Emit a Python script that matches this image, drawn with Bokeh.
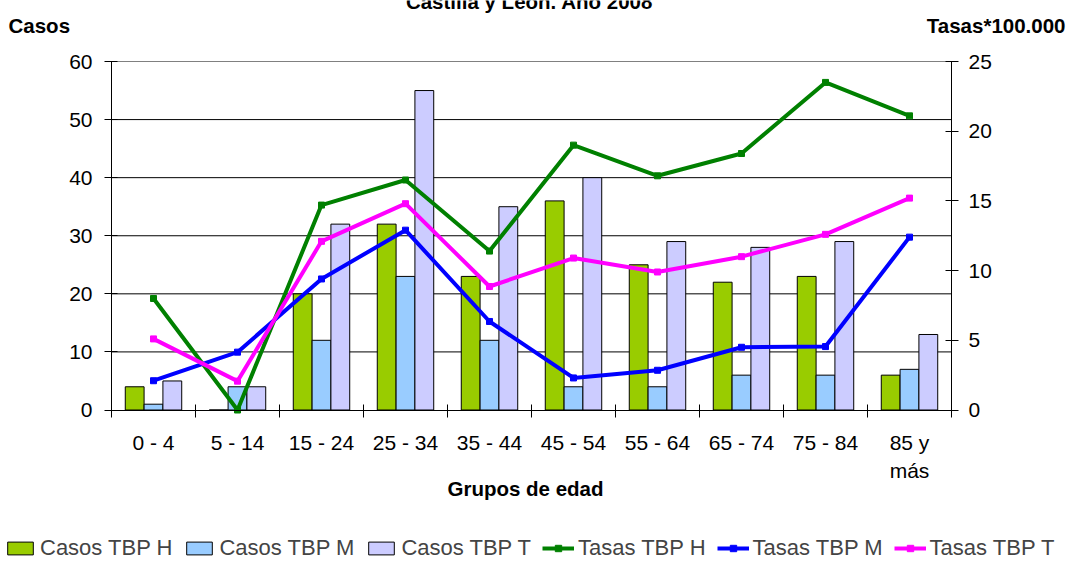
import numpy as np
from bokeh.plotting import figure
from bokeh.models import (Range1d, LinearAxis, FixedTicker, Label, Legend, LegendItem)
from bokeh.embed import file_html
from bokeh.resources import INLINE

# ---------------- data ----------------
grupos = ["0 - 4", "5 - 14", "15 - 24", "25 - 34", "35 - 44", "45 - 54",
          "55 - 64", "65 - 74", "75 - 84", "85 y\nmás"]
casos_h = [4, 0, 20, 32, 23, 36, 25, 22, 23, 6]
casos_m = [1, 4, 12, 23, 12, 4, 4, 6, 6, 7]
casos_t = [5, 4, 32, 55, 35, 40, 29, 28, 29, 13]
tasas_h = [8.0, 0.0, 14.7, 16.5, 11.4, 19.0, 16.8, 18.4, 23.5, 21.1]
tasas_m = [2.1, 4.15, 9.4, 12.9, 6.35, 2.3, 2.85, 4.5, 4.55, 12.4]
tasas_t = [5.1, 2.07, 12.1, 14.8, 8.86, 10.9, 9.9, 11.0, 12.6, 15.2]
casos_ticks = [0, 10, 20, 30, 40, 50, 60]
tasas_ticks = [0, 5, 10, 15, 20, 25]
series_names = ["Casos TBP H", "Casos TBP M", "Casos TBP T",
                "Tasas TBP H", "Tasas TBP M", "Tasas TBP T"]
titulo = "Castilla y León. Año 2008"
y_left_title = "Casos"
y_right_title = "Tasas*100.000"
x_title = "Grupos de edad"

FONT = "Liberation Sans"
FS = "21px"
FS_B = "20.5px"
FS_LEG = "22px"

# ---------------- geometry (pixels) ----------------
W, H = 1068, 561
PX_L, PX_T = 111.0, 61.0
PX_R = W - 951.0
PX_B = H - 409.5
n = len(grupos)
cmax, tmax = casos_ticks[-1], tasas_ticks[-1]
fw, fh = W - PX_L - PX_R, H - PX_T - PX_B
sx = fw / n
sy_c = fh / cmax
sy_t = fh / tmax

x_range = Range1d(-PX_L / sx, n + PX_R / sx)
y_range = Range1d(-PX_B / sy_c, cmax + PX_T / sy_c)

p = figure(width=W, height=H, x_range=x_range, y_range=y_range,
           output_backend="svg", toolbar_location=None, min_border=0)
p.extra_y_ranges = {"tasas": Range1d(-PX_B / sy_t, tmax + PX_T / sy_t)}
p.outline_line_color = None
p.xgrid.grid_line_color = None
p.ygrid.grid_line_color = None

xc = [i + 0.5 for i in range(n)]
xa = np.array(xc)
bw = 0.224

# horizontal grid lines (plot area only) + grey top border
p.segment(x0=[0] * (len(casos_ticks) - 2), x1=[n] * (len(casos_ticks) - 2),
          y0=casos_ticks[1:-1], y1=casos_ticks[1:-1], line_color="black", line_width=1)
p.segment(x0=[0], x1=[n], y0=[cmax], y1=[cmax], line_color="#808080", line_width=1)

# axes
yax = p.yaxis[0]
yax.fixed_location = 0
yax.bounds = (0, cmax)
yax.ticker = FixedTicker(ticks=casos_ticks)

xax = p.xaxis[0]
xax.fixed_location = 0
xax.bounds = (0, n)
xax.ticker = FixedTicker(ticks=xc, minor_ticks=list(range(n + 1)))
xax.major_label_overrides = {x: g for x, g in zip(xc, grupos)}
xax.major_tick_line_color = None
xax.major_tick_in = 0
xax.major_tick_out = 7
xax.minor_tick_line_color = "black"
xax.minor_tick_in = 6
xax.minor_tick_out = 7
xax.major_label_standoff = 14

rax = LinearAxis(y_range_name="tasas", ticker=FixedTicker(ticks=tasas_ticks),
                 fixed_location=n, bounds=(0, tmax))
p.add_layout(rax, "right")

for ax in [xax, yax, rax]:
    ax.axis_line_color = "black"
    ax.major_label_text_font = FONT
    ax.major_label_text_font_size = FS
    ax.major_label_text_color = "black"
for ax in [yax, rax]:
    ax.major_tick_line_color = "black"
    ax.minor_tick_line_color = None
    ax.major_tick_in = 6
    ax.major_tick_out = 7
yax.major_label_standoff = 12
rax.major_label_standoff = 10

# bars
rb_h = p.vbar(x=xa - bw, top=casos_h, width=bw, fill_color="#99CC00", line_color="black", line_width=1)
rb_m = p.vbar(x=xa, top=casos_m, width=bw, fill_color="#99CCFF", line_color="black", line_width=1)
rb_t = p.vbar(x=xa + bw, top=casos_t, width=bw, fill_color="#CCCCFF", line_color="black", line_width=1)

# lines
line_specs = [(tasas_h, "#008000"), (tasas_m, "#0000FF"), (tasas_t, "#FF00FF")]
line_rs = []
for vals, col in line_specs:
    rl = p.line(xa, vals, y_range_name="tasas", line_color=col, line_width=4)
    rs = p.scatter(xa, vals, y_range_name="tasas", marker="square", size=6,
                   fill_color=col, line_color=col)
    line_rs.append([rl, rs])

# texts
def px_x(px):
    return (px - PX_L) / sx

def px_y(py):
    return (H - PX_B - py) / sy_c

p.add_layout(Label(x=px_x(529), y=px_y(0.5), text=titulo, text_align="center",
                   text_baseline="middle", text_font=FONT, text_font_size=FS_B,
                   text_font_style="bold", text_color="black"))
p.add_layout(Label(x=px_x(8), y=px_y(25), text=y_left_title, text_align="left",
                   text_baseline="middle", text_font=FONT, text_font_size=FS_B,
                   text_font_style="bold", text_color="black"))
p.add_layout(Label(x=px_x(1065), y=px_y(25), text=y_right_title, text_align="right",
                   text_baseline="middle", text_font=FONT, text_font_size=FS_B,
                   text_font_style="bold", text_color="black"))
p.add_layout(Label(x=px_x(525), y=px_y(488), text=x_title, text_align="center",
                   text_baseline="middle", text_font=FONT, text_font_size=FS_B,
                   text_font_style="bold", text_color="black"))

# legend
rends = [[rb_h], [rb_m], [rb_t]] + line_rs
items = [LegendItem(label=nm, renderers=r) for nm, r in zip(series_names, rends)]
legend = Legend(items=items, orientation="horizontal", location=(4, 0),
                label_text_font=FONT, label_text_font_size=FS_LEG,
                label_standoff=4, spacing=11, glyph_width=32, glyph_height=16,
                label_height=16, padding=0, margin=0,
                border_line_color=None, background_fill_alpha=0)
p.add_layout(legend)

open("out.html", "w").write(file_html(p, INLINE))
